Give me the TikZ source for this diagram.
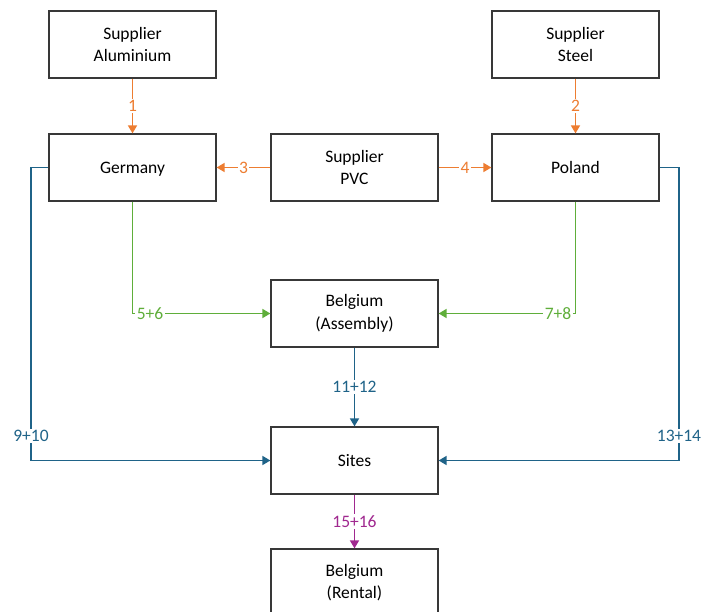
\documentclass[tikz,border=0pt]{standalone}
\usepackage{fontspec}
\setmainfont{Carlito}
\usetikzlibrary{arrows.meta}
\definecolor{corange}{HTML}{ED7D31}
\definecolor{cgreen}{HTML}{5FAE3A}
\definecolor{cblue}{HTML}{1F6388}
\definecolor{cpurple}{HTML}{A0288F}
\begin{document}
\begin{tikzpicture}[x=1pt,y=-1pt,
  box/.style={draw=black!78, line width=1.2pt, minimum width=167pt, minimum height=67pt, align=center, font=\fontsize{17.5}{22.5}\selectfont, inner sep=0pt},
  onebox/.style={box, text depth=0pt},
  conn/.style={line width=1.6pt, -{Triangle[length=8pt,width=9pt]}},
  lbl/.style={fill=white, inner sep=1.5pt, font=\fontsize{17.5}{20}\selectfont}]
\useasboundingbox (0,0) rectangle (702,611);
\node[box] (alu) at (132.5,44.5) {Supplier\\Aluminium};
\node[box] (steel) at (575.5,44.5) {Supplier\\Steel};
\node[onebox] (germany) at (132.5,167.5) {Germany};
\node[box] (pvc) at (354.5,167.5) {Supplier\\PVC};
\node[onebox] (poland) at (575.5,167.5) {Poland};
\node[box] (assembly) at (354.5,313.5) {Belgium\\(Assembly)};
\node[onebox] (sites) at (354.5,460.5) {Sites};
\node[box] (rental) at (354.5,582.5) {Belgium\\(Rental)};
\coordinate (c1) at (31,460.5);
\coordinate (c2) at (679,460.5);

\draw[conn,corange] (alu) -- node[lbl,text=corange]{1} (germany);
\draw[conn,corange] (steel) -- node[lbl,text=corange]{2} (poland);
\draw[conn,corange] (pvc) -- node[lbl,text=corange]{3} (germany);
\draw[conn,corange] (pvc) -- node[lbl,text=corange]{4} (poland);

\draw[conn,cgreen] (germany.south) |- node[lbl,text=cgreen,anchor=west,xshift=2pt]{5+6} (assembly.west);
\draw[conn,cgreen] (poland.south) |- node[lbl,text=cgreen,anchor=east,xshift=-2pt]{7+8} (assembly.east);

\draw[line width=1.6pt,cblue] (germany.west) -| node[lbl,text=cblue,pos=0.958]{9+10} (c1);
\draw[conn,cblue] (c1) -- (sites.west);
\draw[line width=1.6pt,cblue] (poland.east) -| node[lbl,text=cblue,pos=0.958]{13+14} (c2);
\draw[conn,cblue] (c2) -- (sites.east);
\draw[conn,cblue] (assembly) -- node[lbl,text=cblue]{11+12} (sites);

\draw[conn,cpurple] (sites) -- node[lbl,text=cpurple]{15+16} (rental);
\end{tikzpicture}
\end{document}
